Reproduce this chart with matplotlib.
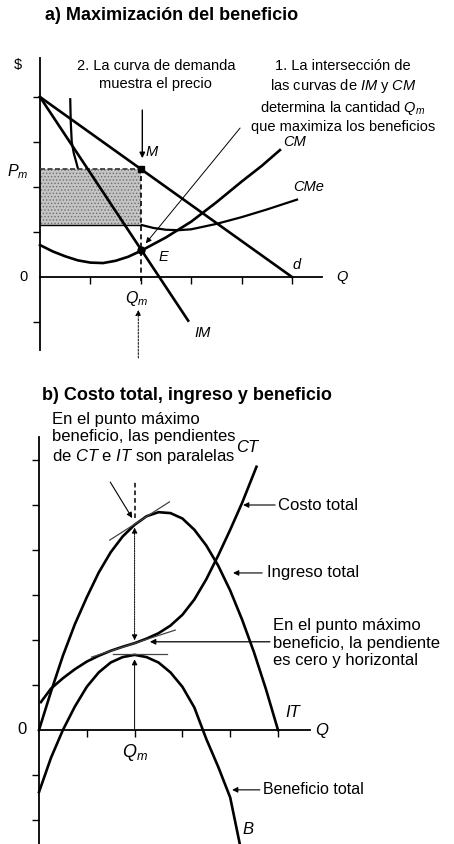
import matplotlib
matplotlib.use("Agg")
import matplotlib.pyplot as plt

plt.rcParams['font.family'] = ['Liberation Sans', 'DejaVu Sans']
plt.rcParams['mathtext.fontset'] = 'custom'
plt.rcParams['mathtext.rm'] = 'Liberation Sans'
plt.rcParams['mathtext.it'] = 'Liberation Sans:italic'
plt.rcParams['hatch.linewidth'] = 0.6

# ----------------- datos (a) ----------------- #
demanda_q = [0, 5]
demanda_p = [4, 0]
im_q = [0, 2.94]
im_p = [4, -0.97]
cm_q = [0, 0.25, 0.5, 0.75, 1.0, 1.25, 1.5, 1.75, 2.0, 2.25, 2.5, 3.0, 3.5, 4.0, 4.4, 4.76]
cm_p = [0.71, 0.57, 0.46, 0.37, 0.32, 0.31, 0.36, 0.45, 0.58, 0.73, 0.88, 1.23, 1.66, 2.12, 2.47, 2.82]
cme_q = [0.6, 0.61, 0.63, 0.67, 0.72, 0.75, 0.8, 0.9, 1.0, 1.25, 1.5, 1.75, 2.0, 2.25, 2.5, 2.75, 3.0, 3.5, 4.0, 4.5, 5.1]
cme_p = [3.95, 3.45, 3.0, 2.75, 2.55, 2.42, 2.28, 2.1, 1.96, 1.66, 1.44, 1.28, 1.16, 1.09, 1.05, 1.04, 1.06, 1.18, 1.33, 1.5, 1.72]
q_m = 2.0
p_m = 2.4
cme_m = 1.16
cm_m = 0.6
ticks_a_x = [1, 2, 3, 4, 5]
ticks_a_y = [-1, 1, 2, 3, 4]

# ----------------- datos (b) ----------------- #
it_q = [0, 0.25, 0.5, 0.75, 1, 1.25, 1.5, 1.75, 2, 2.25, 2.5, 2.75, 3, 3.25, 3.5, 3.75, 4, 4.25, 4.5, 4.75, 5]
it_y = [0, 0.85, 1.65, 2.35, 2.95, 3.5, 3.95, 4.3, 4.56, 4.75, 4.84, 4.82, 4.7, 4.45, 4.1, 3.65, 3.1, 2.45, 1.72, 0.9, 0]
ct_q = [0.04, 0.25, 0.5, 0.75, 1, 1.25, 1.5, 1.75, 2, 2.25, 2.5, 2.75, 3, 3.25, 3.5, 3.75, 4, 4.25, 4.55]
ct_y = [0.62, 0.92, 1.15, 1.35, 1.52, 1.65, 1.76, 1.85, 1.93, 2.03, 2.15, 2.32, 2.56, 2.9, 3.35, 3.88, 4.45, 5.05, 5.85]
b_q = [0, 0.25, 0.5, 0.75, 1, 1.25, 1.5, 1.75, 2, 2.25, 2.5, 2.75, 3, 3.25, 3.5, 3.75, 4, 4.2]
b_y = [-1.38, -0.62, 0.0, 0.52, 0.96, 1.28, 1.5, 1.62, 1.67, 1.62, 1.5, 1.28, 0.96, 0.5, -0.2, -0.82, -1.5, -2.53]
tan_it_q = [1.48, 2.73]
tan_it_y = [4.22, 5.07]
tan_ct_q = [1.1, 2.85]
tan_ct_y = [1.62, 2.22]
tan_b_q = [1.55, 2.68]
tan_b_y = [1.69, 1.69]
it_m = 4.56
ct_m = 1.93
b_m = 1.67
ticks_b_x = [1, 2, 3, 4, 5]
ticks_b_y = [-2, -1, 1, 2, 3, 4, 5, 6]

fig = plt.figure(figsize=(4.54, 8.44), dpi=100)
fs = 10.5
fsb = 12


def ejes(ax, xlim, ylim, xb, yb, xt, yt):
    ax.set_xlim(*xlim)
    ax.set_ylim(*ylim)
    ax.patch.set_alpha(0)
    for s in ['top', 'right']:
        ax.spines[s].set_visible(False)
    ax.spines['left'].set_position(('data', 0))
    ax.spines['bottom'].set_position(('data', 0))
    ax.spines['left'].set_bounds(*yb)
    ax.spines['bottom'].set_bounds(*xb)
    for s in ['left', 'bottom']:
        ax.spines[s].set_linewidth(1.3)
    ax.set_xticks(xt)
    ax.set_yticks(yt)
    ax.tick_params(direction='out', length=5, width=1, labelbottom=False, labelleft=False)


def flecha(ax, a, b, lw=0.8, ls='-'):
    ax.annotate('', xy=b, xytext=a,
                arrowprops=dict(arrowstyle='-|>', lw=lw, ls=ls, color='k',
                                mutation_scale=8, shrinkA=0, shrinkB=0))


# ----------------- (a) ----------------- #
ax1 = fig.add_axes([0, 0.5, 1, 0.5])
ejes(ax1, (-40 / 50.4, 414 / 50.4), ((277 - 422) / 45, 277 / 45),
     (0, 5.6), (-1.62, 4.87), ticks_a_x, ticks_a_y)

ax1.plot(cme_q, cme_p, color='k', lw=1.6, zorder=1)
ax1.fill_between([0, q_m], cme_m, p_m, facecolor='#c4c4c4', edgecolor='#6e6e6e',
                 hatch='.....', lw=0, zorder=2)
ax1.plot([0, q_m], [p_m, p_m], color='#333333', lw=1.2, ls=(0, (3, 1.5)), zorder=3)
ax1.plot([0, q_m], [cme_m, cme_m], color='k', lw=1.0, zorder=3)
ax1.plot([q_m, q_m], [-0.08, p_m], color='k', lw=1.2, ls=(0, (3, 2)), zorder=3)
ax1.plot(demanda_q, demanda_p, color='k', lw=1.9, zorder=4)
ax1.plot(im_q, im_p, color='k', lw=1.9, zorder=4)
ax1.plot(cm_q, cm_p, color='k', lw=1.9, zorder=4)
ax1.plot([q_m], [p_m], 'ks', ms=4, zorder=5)
ax1.plot([q_m], [cm_m], 'ko', ms=5, zorder=5)

flecha(ax1, (2.03, 3.71), (2.03, 2.64), lw=1.0)
flecha(ax1, (3.97, 3.31), (2.1, 0.75), lw=0.7)
flecha(ax1, (1.95, -1.8), (1.95, -0.73), lw=0.7, ls=(0, (2, 1.5)))

ax1.text(-0.44, 4.71, '$', fontsize=fs, ha='center', va='center')
ax1.text(2.3, 4.49, '2. La curva de demanda\nmuestra el precio', fontsize=fs,
         ha='center', va='center', linespacing=1.3)
ax1.text(6.01, 4.01,
         '1. La intersección de\nlas curvas de $\\it{IM}$ y $\\it{CM}$\n'
         'determina la cantidad $\\it{Q_m}$\nque maximiza los beneficios',
         fontsize=fs, ha='center', va='center', linespacing=1.3)
ax1.text(5.06, 3.0, 'CM', fontsize=fs, style='italic', ha='center', va='center')
ax1.text(5.32, 2.0, 'CMe', fontsize=fs, style='italic', ha='center', va='center')
ax1.text(2.22, 2.78, 'M', fontsize=fs, style='italic', ha='center', va='center')
ax1.text(-0.44, 2.33, '$P_m$', fontsize=fs + 1, ha='center', va='center')
ax1.text(2.44, 0.44, 'E', fontsize=fs, style='italic', ha='center', va='center')
ax1.text(5.1, 0.27, 'd', fontsize=fs, style='italic', ha='center', va='center')
ax1.text(-0.32, 0, '0', fontsize=fs, ha='center', va='center')
ax1.text(5.99, 0, 'Q', fontsize=fs, style='italic', ha='center', va='center')
ax1.text(1.92, -0.47, '$Q_m$', fontsize=fs + 1, ha='center', va='center')
ax1.text(3.23, -1.24, 'IM', fontsize=fs, style='italic', ha='center', va='center')

fig.text(45 / 454, 1 - 15 / 844, 'a) Maximización del beneficio', fontsize=13,
         fontweight='bold', ha='left', va='center')

# ----------------- (b) ----------------- #
ax2 = fig.add_axes([0, 0, 1, 0.5])
ejes(ax2, (-39 / 47.8, 415 / 47.8), ((730 - 844) / 45, (730 - 422) / 45),
     (0, 5.67), (-2.6, 6.51), ticks_b_x, ticks_b_y)

ax2.plot(it_q, it_y, color='k', lw=1.9)
ax2.plot(ct_q, ct_y, color='k', lw=1.9)
ax2.plot(b_q, b_y, color='k', lw=1.9)
ax2.plot(tan_it_q, tan_it_y, color='#444444', lw=0.9)
ax2.plot(tan_ct_q, tan_ct_y, color='#444444', lw=0.9)
ax2.plot(tan_b_q, tan_b_y, color='#444444', lw=0.9)

ax2.plot([q_m, q_m], [it_m + 0.15, 5.51], color='k', lw=1.1, ls=(0, (3, 2)))
ax2.annotate('', xy=(q_m, it_m), xytext=(q_m, ct_m),
             arrowprops=dict(arrowstyle='<|-|>', lw=0.7, ls=(0, (1.5, 1)), color='k',
                             mutation_scale=8, shrinkA=2, shrinkB=2))
flecha(ax2, (q_m, 0), (q_m, b_m - 0.1), lw=0.7)
flecha(ax2, (1.49, 5.51), (1.95, 4.71), lw=0.8)
flecha(ax2, (4.94, 5.0), (4.27, 5.0), lw=0.8)
flecha(ax2, (4.67, 3.49), (4.06, 3.49), lw=0.8)
flecha(ax2, (4.83, 1.96), (2.32, 1.96), lw=0.9)
flecha(ax2, (4.62, -1.33), (4.04, -1.33), lw=0.8)

ax2.text(0.27, 6.47,
         'En el punto máximo\nbeneficio, las pendientes\nde $\\it{CT}$ e $\\it{IT}$ son paralelas',
         fontsize=fsb, ha='left', va='center', linespacing=1.2)
ax2.text(4.35, 6.27, 'CT', fontsize=fsb, style='italic', ha='center', va='center')
ax2.text(5.0, 5.0, 'Costo total', fontsize=fsb, ha='left', va='center')
ax2.text(4.77, 3.49, 'Ingreso total', fontsize=fsb, ha='left', va='center')
ax2.text(4.9, 1.93, 'En el punto máximo\nbeneficio, la pendiente\nes cero y horizontal',
         fontsize=fsb, ha='left', va='center', linespacing=1.2)
ax2.text(4.69, -1.33, 'Beneficio total', fontsize=11.5, ha='left', va='center')
ax2.text(-0.36, 0, '0', fontsize=fsb, ha='center', va='center')
ax2.text(5.92, 0, 'Q', fontsize=fsb, style='italic', ha='center', va='center')
ax2.text(5.31, 0.38, 'IT', fontsize=fsb, style='italic', ha='center', va='center')
ax2.text(2.0, -0.51, '$Q_m$', fontsize=fsb + 1, ha='center', va='center')
ax2.text(4.37, -2.22, 'B', fontsize=fsb, style='italic', ha='center', va='center')

fig.text(42 / 454, 1 - 395 / 844, 'b) Costo total, ingreso y beneficio', fontsize=13,
         fontweight='bold', ha='left', va='center')

fig.savefig('out.png', dpi=100)
